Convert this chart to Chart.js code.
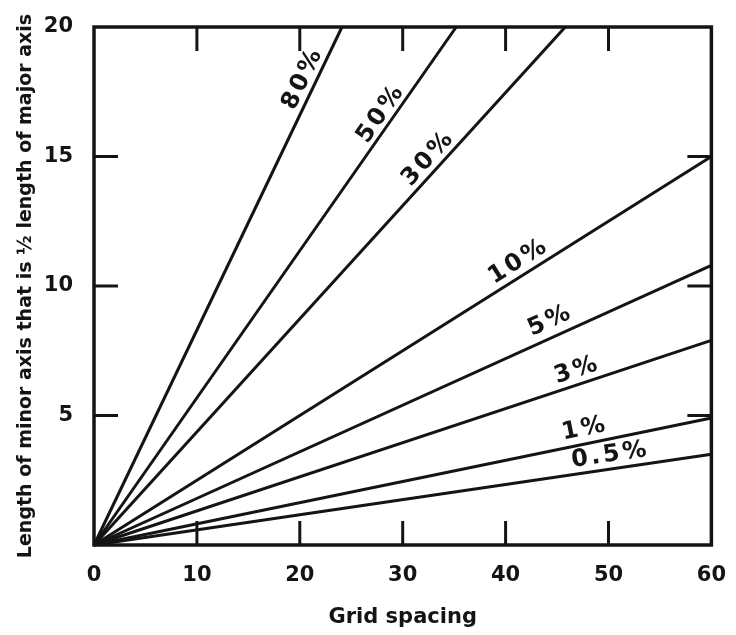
<!DOCTYPE html>
<html>
<head>
<meta charset="utf-8">
<script src="https://cdn.jsdelivr.net/npm/chart.js@4.4.1/dist/chart.umd.min.js"></script>
<style>
  html, body { margin: 0; padding: 0; background: #fff; }
</style>
</head>
<body>
<canvas id="myChart" width="736" height="635"></canvas>
<script>
// data block
const lineLabels = ['80%', '50%', '30%', '10%', '5%', '3%', '1%', '0.5%'];
const endX = [24.1, 35.2, 45.8, 60, 60, 60, 60, 60];
const endY = [20, 20, 20, 15.0, 10.8, 7.9, 4.9, 3.5];
const xTicks = [0, 10, 20, 30, 40, 50, 60];
const yTicks = [0, 5, 10, 15, 20];

const ink = '#141414';
const fontFamily = '"DejaVu Sans", sans-serif';

// where each label sits along its line (fraction) and how far above it (px)
const labelAt = [0.89, 0.82, 0.73, 0.70, 0.75, 0.79, 0.80, 0.84];
const labelOff = [13, 12, 13, 14, 16, 14, 15, 14];

const datasets = lineLabels.map((name, i) => ({
    label: name,
    data: [{ x: 0, y: 0 }, { x: endX[i], y: endY[i] }],
    showLine: true,
    borderColor: ink,
    borderWidth: 3,
    pointRadius: 0,
    clip: 2
}));

// frame, inward ticks and line labels
const framePlugin = {
    id: 'frame',
    afterDatasetsDraw(chart) {
        const { ctx, chartArea: a, scales: { x, y } } = chart;
        const seg = (x1, y1, x2, y2) => {
            ctx.beginPath();
            ctx.moveTo(x1, y1);
            ctx.lineTo(x2, y2);
            ctx.stroke();
        };
        ctx.save();
        ctx.strokeStyle = ink;
        ctx.lineWidth = 3.5;
        ctx.strokeRect(a.left, a.top, a.right - a.left, a.bottom - a.top);

        ctx.lineWidth = 3;
        const len = 24;
        xTicks.forEach(v => {
            if (v === x.min || v === x.max) return;
            const px = x.getPixelForValue(v);
            seg(px, a.bottom, px, a.bottom - len);
            seg(px, a.top, px, a.top + len);
        });
        yTicks.forEach(v => {
            if (v === y.min || v === y.max) return;
            const py = y.getPixelForValue(v);
            seg(a.left, py, a.left + len, py);
            seg(a.right, py, a.right - len, py);
        });

        ctx.fillStyle = ink;
        ctx.font = 'bold 24px ' + fontFamily;
        ctx.letterSpacing = '3px';
        ctx.textAlign = 'center';
        ctx.textBaseline = 'middle';
        lineLabels.forEach((name, i) => {
            const x0 = x.getPixelForValue(0), y0 = y.getPixelForValue(0);
            const x1 = x.getPixelForValue(endX[i]), y1 = y.getPixelForValue(endY[i]);
            const ang = Math.atan2(y1 - y0, x1 - x0);
            const t = labelAt[i];
            const cx = x0 + t * (x1 - x0) + labelOff[i] * Math.sin(ang);
            const cy = y0 + t * (y1 - y0) - labelOff[i] * Math.cos(ang);
            ctx.save();
            ctx.translate(cx, cy);
            ctx.rotate(ang);
            ctx.fillText(name, 0, 0);
            ctx.restore();
        });
        ctx.restore();
    }
};

// config block
const config = {
    type: 'scatter',
    data: { datasets: datasets },
    options: {
        responsive: false,
        animation: false,
        devicePixelRatio: 1,
        layout: { padding: { top: 27, right: 24, left: 0, bottom: 0 } },
        plugins: {
            legend: { display: false },
            tooltip: { enabled: false }
        },
        scales: {
            x: {
                type: 'linear',
                min: 0,
                max: 60,
                afterBuildTicks: s => { s.ticks = xTicks.map(v => ({ value: v })); },
                afterFit: s => { s.height = 90; },
                grid: { display: false },
                border: { display: false },
                ticks: {
                    color: ink,
                    padding: 10,
                    maxRotation: 0,
                    font: { family: fontFamily, size: 21, weight: 'bold' }
                },
                title: {
                    display: true,
                    text: 'Grid spacing',
                    color: ink,
                    padding: { top: 0, bottom: 5 },
                    font: { family: fontFamily, size: 21, weight: 'bold' }
                }
            },
            y: {
                type: 'linear',
                min: 0,
                max: 20,
                afterBuildTicks: s => { s.ticks = yTicks.map(v => ({ value: v })); },
                afterFit: s => { s.width = 94; },
                grid: { display: false },
                border: { display: false },
                ticks: {
                    color: ink,
                    padding: 13,
                    callback: v => (v === 0 ? '' : v),
                    font: { family: fontFamily, size: 21, weight: 'bold' }
                },
                title: {
                    display: true,
                    text: 'Length of minor axis that is ½ length of major axis',
                    color: ink,
                    padding: { top: 15, bottom: 0 },
                    font: { family: fontFamily, size: 19, weight: 'bold' }
                }
            }
        }
    },
    plugins: [framePlugin]
};

// init render block
const myChart = new Chart(document.getElementById('myChart'), config);
</script>
</body>
</html>
